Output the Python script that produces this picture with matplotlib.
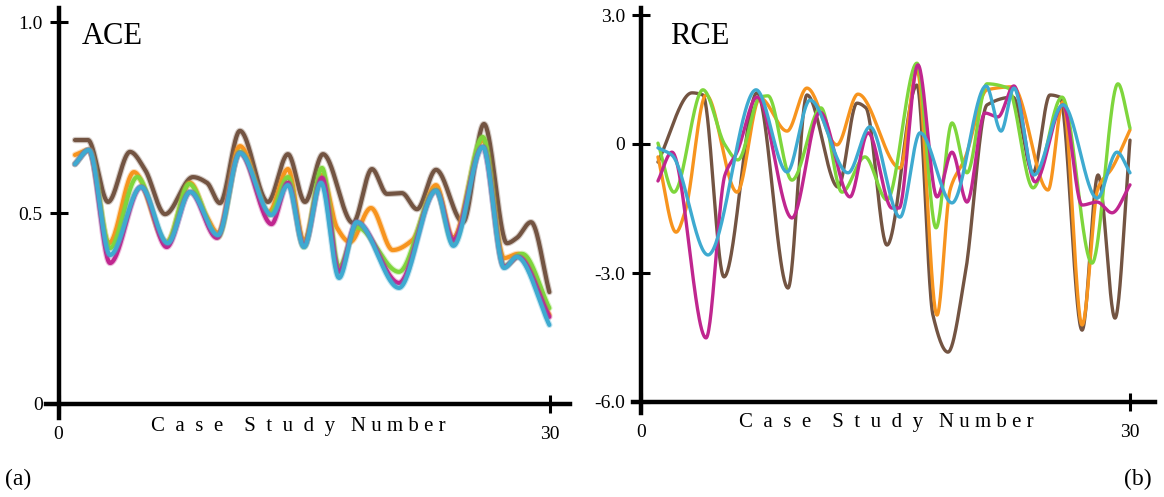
import numpy as np
import matplotlib
matplotlib.use("Agg")
import matplotlib.pyplot as plt

plt.rcParams['font.family'] = ['Liberation Serif', 'DejaVu Serif']

# colours of the five methods
colors = ["#735442", "#f7941e", "#7ed63c", "#c0268f", "#3eaad0"]

# ---- ACE panel: knots (case study number, value)
ace_brown_x = [1.0, 1.79, 3.02, 4.36, 5.28, 6.50, 8.20, 9.06, 9.85, 11.07, 12.78, 14.0, 15.04, 16.14,
               17.97, 19.13, 20.05, 20.96, 21.88, 23.04, 24.69, 25.97, 27.37, 27.98, 28.84, 29.96]
ace_brown_y = [0.691, 0.691, 0.529, 0.660, 0.613, 0.497, 0.594, 0.579, 0.526, 0.715, 0.529, 0.654, 0.529, 0.654,
               0.474, 0.615, 0.550, 0.552, 0.510, 0.613, 0.476, 0.733, 0.421, 0.435, 0.476, 0.293]

ace_orange_x = [1.0, 1.85, 3.08, 4.6, 6.6, 8.03, 9.0, 9.73, 11.07, 12.84, 14.0, 14.98, 16.08, 17.0,
                17.79, 19.07, 20.4, 21.6, 23.04, 24.08, 25.9, 27.2, 28.05, 29.96]
ace_orange_y = [0.652, 0.665, 0.421, 0.607, 0.424, 0.579, 0.495, 0.448, 0.675, 0.503, 0.615, 0.427, 0.600, 0.461,
                0.424, 0.513, 0.403, 0.429, 0.573, 0.435, 0.691, 0.382, 0.393, 0.233]

ace_green_x = [1.0, 1.85, 3.14, 4.8, 6.6, 7.97, 9.73, 11.07, 12.9, 14.0, 14.98, 16.08, 17.12, 18.2,
               20.78, 23.04, 24.1, 25.9, 27.2, 28.3, 29.96]
ace_green_y = [0.628, 0.665, 0.408, 0.594, 0.421, 0.576, 0.437, 0.660, 0.495, 0.594, 0.411, 0.618, 0.359, 0.463,
               0.346, 0.560, 0.421, 0.699, 0.361, 0.393, 0.251]

ace_magenta_x = [1.0, 1.85, 3.14, 5.03, 6.6, 8.03, 9.67, 11.07, 13.0, 14.0, 14.98, 16.08, 17.12, 18.2,
                 20.78, 23.04, 24.1, 25.9, 27.2, 28.05, 29.96]
ace_magenta_y = [0.628, 0.665, 0.369, 0.568, 0.411, 0.555, 0.435, 0.657, 0.471, 0.579, 0.414, 0.592, 0.346, 0.476,
                 0.317, 0.558, 0.429, 0.673, 0.359, 0.385, 0.228]

ace_cyan_x = [1.0, 1.85, 3.14, 5.03, 6.66, 8.03, 9.73, 11.07, 13.0, 14.0, 14.98, 16.02, 17.12, 18.2,
              20.78, 23.04, 24.1, 25.9, 27.2, 27.98, 29.96]
ace_cyan_y = [0.628, 0.665, 0.390, 0.568, 0.421, 0.555, 0.442, 0.657, 0.495, 0.573, 0.411, 0.579, 0.330, 0.476,
              0.304, 0.558, 0.414, 0.673, 0.356, 0.385, 0.207]

# ---- RCE panel
rce_brown_x = [1.04, 3.13, 3.80, 5.09, 7.12, 9.02, 10.18, 12.09, 13.25, 13.80, 15.09, 16.93, 17.91, 18.83,
               19.88, 21.23, 22.82, 24.05, 25.09, 25.71, 27.06, 28.04, 29.08, 30.0]
rce_brown_y = [-0.42, 1.19, 1.14, -3.09, 1.19, -3.35, 1.14, -1.00, 0.95, 0.84, -2.35, 1.37, -3.98, -4.84,
               -3.05, 0.91, 1.09, -0.67, 1.14, 1.09, -4.33, -0.72, -4.05, 0.09]

rce_orange_x = [1.04, 2.15, 2.70, 3.99, 5.89, 7.30, 8.96, 10.18, 12.02, 13.31, 15.89, 16.93, 18.16, 18.96,
                19.88, 21.23, 22.82, 24.97, 25.89, 27.06, 28.04, 28.90, 30.0]
rce_orange_y = [-0.30, -2.05, -1.58, 1.14, -1.12, 1.07, 0.30, 1.30, -0.02, 1.16, -0.56, 1.72, -3.98, -1.07,
                -0.33, 1.26, 1.33, -1.07, 0.98, -4.21, -1.02, -0.56, 0.33]

rce_green_x = [1.04, 2.02, 3.80, 5.15, 5.95, 7.30, 7.79, 9.26, 11.04, 12.33, 13.74, 15.09, 16.93, 18.10,
               19.08, 20.0, 21.23, 22.52, 24.05, 25.83, 27.67, 29.26, 30.0]
rce_green_y = [0.02, -1.12, 1.26, -0.02, -0.37, 1.09, 1.12, -0.84, 0.84, -1.12, -0.30, -1.30, 1.88, -1.95,
               0.49, -0.67, 1.40, 1.30, -1.02, 1.09, -2.77, 1.40, 0.37]

rce_magenta_x = [1.04, 1.90, 3.99, 5.15, 5.89, 7.12, 9.26, 10.98, 12.82, 13.93, 15.40, 15.83, 16.99, 18.16,
                 19.08, 20.0, 21.10, 21.90, 22.88, 24.17, 25.89, 27.06, 27.98, 28.90, 30.0]
rce_magenta_y = [-0.86, -0.19, -4.51, -0.72, -0.19, 1.09, -1.72, 0.74, -1.23, 0.26, -1.49, -1.49, 1.84, -1.23,
                 -0.19, -1.35, 0.72, 0.63, 1.35, -0.88, 0.91, -1.42, -1.35, -1.60, -0.95]

rce_cyan_x = [1.04, 1.90, 4.11, 7.06, 8.96, 10.37, 12.70, 14.05, 15.89, 17.12, 19.08, 21.17, 22.09, 22.88,
              24.11, 25.89, 27.98, 29.20, 30.0]
rce_cyan_y = [-0.09, -0.26, -2.58, 1.26, -0.65, 1.02, -0.67, 0.40, -1.70, 0.26, -1.37, 1.35, 0.30, 1.30,
              -0.72, 0.91, -1.26, -0.19, -0.67]


def pchip(x, y, xs):
    # shape preserving cubic so the peaks stay at the read values
    x = np.asarray(x, float)
    y = np.asarray(y, float)
    h = np.diff(x)
    d = np.diff(y) / h
    m = np.zeros_like(y)
    for k in range(1, len(x) - 1):
        if d[k - 1] * d[k] > 0:
            w1 = 2 * h[k] + h[k - 1]
            w2 = h[k] + 2 * h[k - 1]
            m[k] = (w1 + w2) / (w1 / d[k - 1] + w2 / d[k])
    m[0] = d[0]
    m[-1] = d[-1]
    i = np.clip(np.searchsorted(x, xs) - 1, 0, len(h) - 1)
    t = (xs - x[i]) / h[i]
    h00 = 2 * t**3 - 3 * t**2 + 1
    h10 = t**3 - 2 * t**2 + t
    h01 = -2 * t**3 + 3 * t**2
    h11 = t**3 - t**2
    return h00 * y[i] + h10 * h[i] * m[i] + h01 * y[i + 1] + h11 * h[i] * m[i + 1]


def draw_curves(ax, series, lw, halo):
    for (x, y), c in zip(series, colors):
        xs = np.linspace(x[0], x[-1], 800)
        ys = pchip(x, y, xs)
        if halo:
            ax.plot(xs, ys, color=c, lw=lw + 1.6, alpha=0.3, solid_capstyle='round')
        ax.plot(xs, ys, color=c, lw=lw, solid_capstyle='round')


def style_axes(ax, yticks, ylabels):
    for s in ['top', 'right']:
        ax.spines[s].set_visible(False)
    ax.spines['left'].set_position(('data', 0))
    ax.spines['bottom'].set_position(('data', yticks[0]))
    for s in ['left', 'bottom']:
        ax.spines[s].set_linewidth(3.2)
    ax.set_xticks([0, 30])
    ax.set_xticklabels(['0', '30'])
    ax.set_yticks(yticks)
    ax.set_yticklabels(ylabels)
    ax.tick_params(direction='inout', length=13, width=2.2, labelsize=14)
    ax.tick_params(axis='y', pad=5)
    ax.tick_params(axis='x', pad=9)


W, H = 1164, 497
fig = plt.figure(figsize=(W / 100, H / 100), dpi=100)

# left panel, placed in pixels
ax1 = fig.add_axes([46 / W, (H - 418) / H, 524 / W, 410 / H])
ax1.set_xlim((46 - 58.6) / 16.38, (570 - 58.6) / 16.38)
ax1.set_ylim((404 - 418) / 382, (404 - 8) / 382)
draw_curves(ax1, [(ace_brown_x, ace_brown_y), (ace_orange_x, ace_orange_y), (ace_green_x, ace_green_y),
                  (ace_magenta_x, ace_magenta_y), (ace_cyan_x, ace_cyan_y)], 3.0, True)
style_axes(ax1, [0, 0.5, 1.0], ['0', '0.5', '1.0'])

# right panel
ax2 = fig.add_axes([633 / W, (H - 413) / H, 522 / W, 405 / H])
ax2.set_xlim((633 - 641) / 16.3, (1155 - 641) / 16.3)
ax2.set_ylim((144 - 413) / 43.0, (144 - 8) / 43.0)
draw_curves(ax2, [(rce_brown_x, rce_brown_y), (rce_orange_x, rce_orange_y), (rce_green_x, rce_green_y),
                  (rce_magenta_x, rce_magenta_y), (rce_cyan_x, rce_cyan_y)], 2.4, False)
style_axes(ax2, [-6, -3, 0, 3], ['-6.0', '-3.0', '0', '3.0'])

xlabel = "C  a  s  e    S  t  u  d  y   N u m b e r"
fig.text(298 / W, 1 - 427 / H, xlabel, ha='center', va='center', fontsize=15)
fig.text(886 / W, 1 - 423 / H, xlabel, ha='center', va='center', fontsize=15)

fig.text(82 / W, 1 - 37 / H, "ACE", ha='left', va='center', fontsize=22)
fig.text(670 / W, 1 - 37 / H, "RCE", ha='left', va='center', fontsize=22)

fig.text(5 / W, 1 - 479 / H, "(a)", ha='left', va='center', fontsize=17)
fig.text(1152 / W, 1 - 479 / H, "(b)", ha='right', va='center', fontsize=17)

fig.savefig("out.png", dpi=100)
